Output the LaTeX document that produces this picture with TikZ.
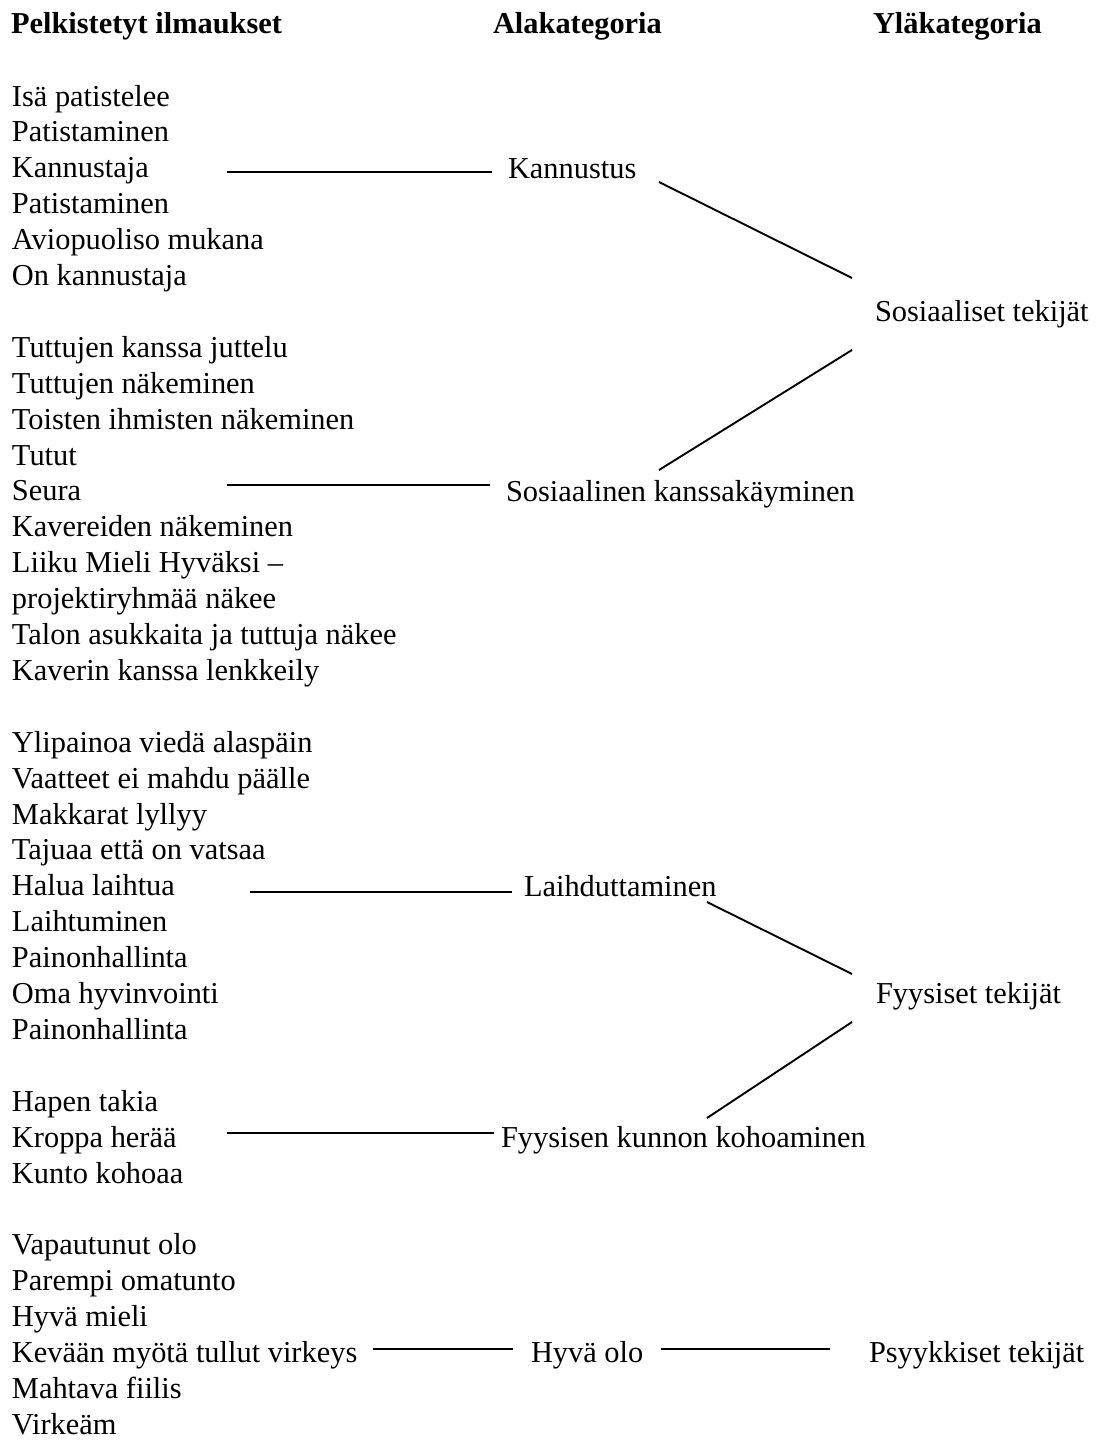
\documentclass[tikz,border=0pt]{standalone}
\usepackage{fontspec}
\setmainfont{Liberation Serif}
\begin{document}
\begin{tikzpicture}[x=1pt,y=-1pt,
  txt/.style={anchor=base west, inner sep=0pt, outer sep=0pt, font=\fontsize{30.4}{36}\selectfont},
  hdr/.style={txt, font=\fontsize{30.4}{36}\selectfont\bfseries},
  conn/.style={line width=1.9pt, line cap=butt}]
\useasboundingbox (0,0) rectangle (1097,1441);
\fill[white] (0,0) rectangle (1097,1441);
% headers
\node[hdr] (h1) at (11,33) {Pelkistetyt ilmaukset};
\node[hdr] (h2) at (493,33) {Alakategoria};
\node[hdr] (h3) at (873,33) {Yläkategoria};
% left column
\foreach \k/\t/\n in {0/Isä patistelee/a0, 1/Patistaminen/a1, 2/Kannustaja/a2, 3/Patistaminen/a3, 4/Aviopuoliso mukana/a4, 5/On kannustaja/a5,
  7/Tuttujen kanssa juttelu/b0, 8/Tuttujen näkeminen/b1, 9/Toisten ihmisten näkeminen/b2, 10/Tutut/b3, 11/Seura/b4, 12/Kavereiden näkeminen/b5, 13/Liiku Mieli Hyväksi –/b6, 14/projektiryhmää näkee/b7, 15/Talon asukkaita ja tuttuja näkee/b8, 16/Kaverin kanssa lenkkeily/b9,
  18/Ylipainoa viedä alaspäin/c0, 19/Vaatteet ei mahdu päälle/c1, 20/Makkarat lyllyy/c2, 21/Tajuaa että on vatsaa/c3, 22/Halua laihtua/c4, 23/Laihtuminen/c5, 24/Painonhallinta/c6, 25/Oma hyvinvointi/c7, 26/Painonhallinta/c8,
  28/Hapen takia/d0, 29/Kroppa herää/d1, 30/Kunto kohoaa/d2,
  32/Vapautunut olo/e0, 33/Parempi omatunto/e1, 34/Hyvä mieli/e2, 35/Kevään myötä tullut virkeys/e3, 36/Mahtava fiilis/e4, 37/Virkeäm/e5}
  {\node[txt] (\n) at (12,{106+35.9*\k}) {\t};}
% middle column
\node[txt] (kan) at (508,178) {Kannustus};
\node[txt] (sos) at (506,501) {Sosiaalinen kanssakäyminen};
\node[txt] (lai) at (524,896) {Laihduttaminen};
\node[txt] (fko) at (501,1147) {Fyysisen kunnon kohoaminen};
\node[txt] (hyv) at (531,1362) {Hyvä olo};
% right column
\node[txt] (sost) at (875,321) {Sosiaaliset tekijät};
\node[txt] (fyyt) at (876,1003) {Fyysiset tekijät};
\node[txt] (psyt) at (869,1362) {Psyykkiset tekijät};
% connector end points
\coordinate (p1a) at (227,172);  \coordinate (p1b) at (492,172);
\coordinate (p2a) at (227,485);  \coordinate (p2b) at (490,485);
\coordinate (p3a) at (250,892);  \coordinate (p3b) at (512,892);
\coordinate (p4a) at (227,1133); \coordinate (p4b) at (494,1133);
\coordinate (p5a) at (373,1349); \coordinate (p5b) at (513,1349);
\coordinate (p6a) at (661,1349); \coordinate (p6b) at (830,1349);
\coordinate (q1a) at (659,182);  \coordinate (q1b) at (852,278);
\coordinate (q2a) at (659,470);  \coordinate (q2b) at (852,350);
\coordinate (q3a) at (707,902);  \coordinate (q3b) at (852,974);
\coordinate (q4a) at (707,1118); \coordinate (q4b) at (852,1022);
\draw[conn] (p1a) -- (p1b);
\draw[conn] (p2a) -- (p2b);
\draw[conn] (p3a) -- (p3b);
\draw[conn] (p4a) -- (p4b);
\draw[conn] (p5a) -- (p5b);
\draw[conn] (p6a) -- (p6b);
\draw[conn] (q1a) -- (q1b);
\draw[conn] (q2a) -- (q2b);
\draw[conn] (q3a) -- (q3b);
\draw[conn] (q4a) -- (q4b);
\end{tikzpicture}
\end{document}
